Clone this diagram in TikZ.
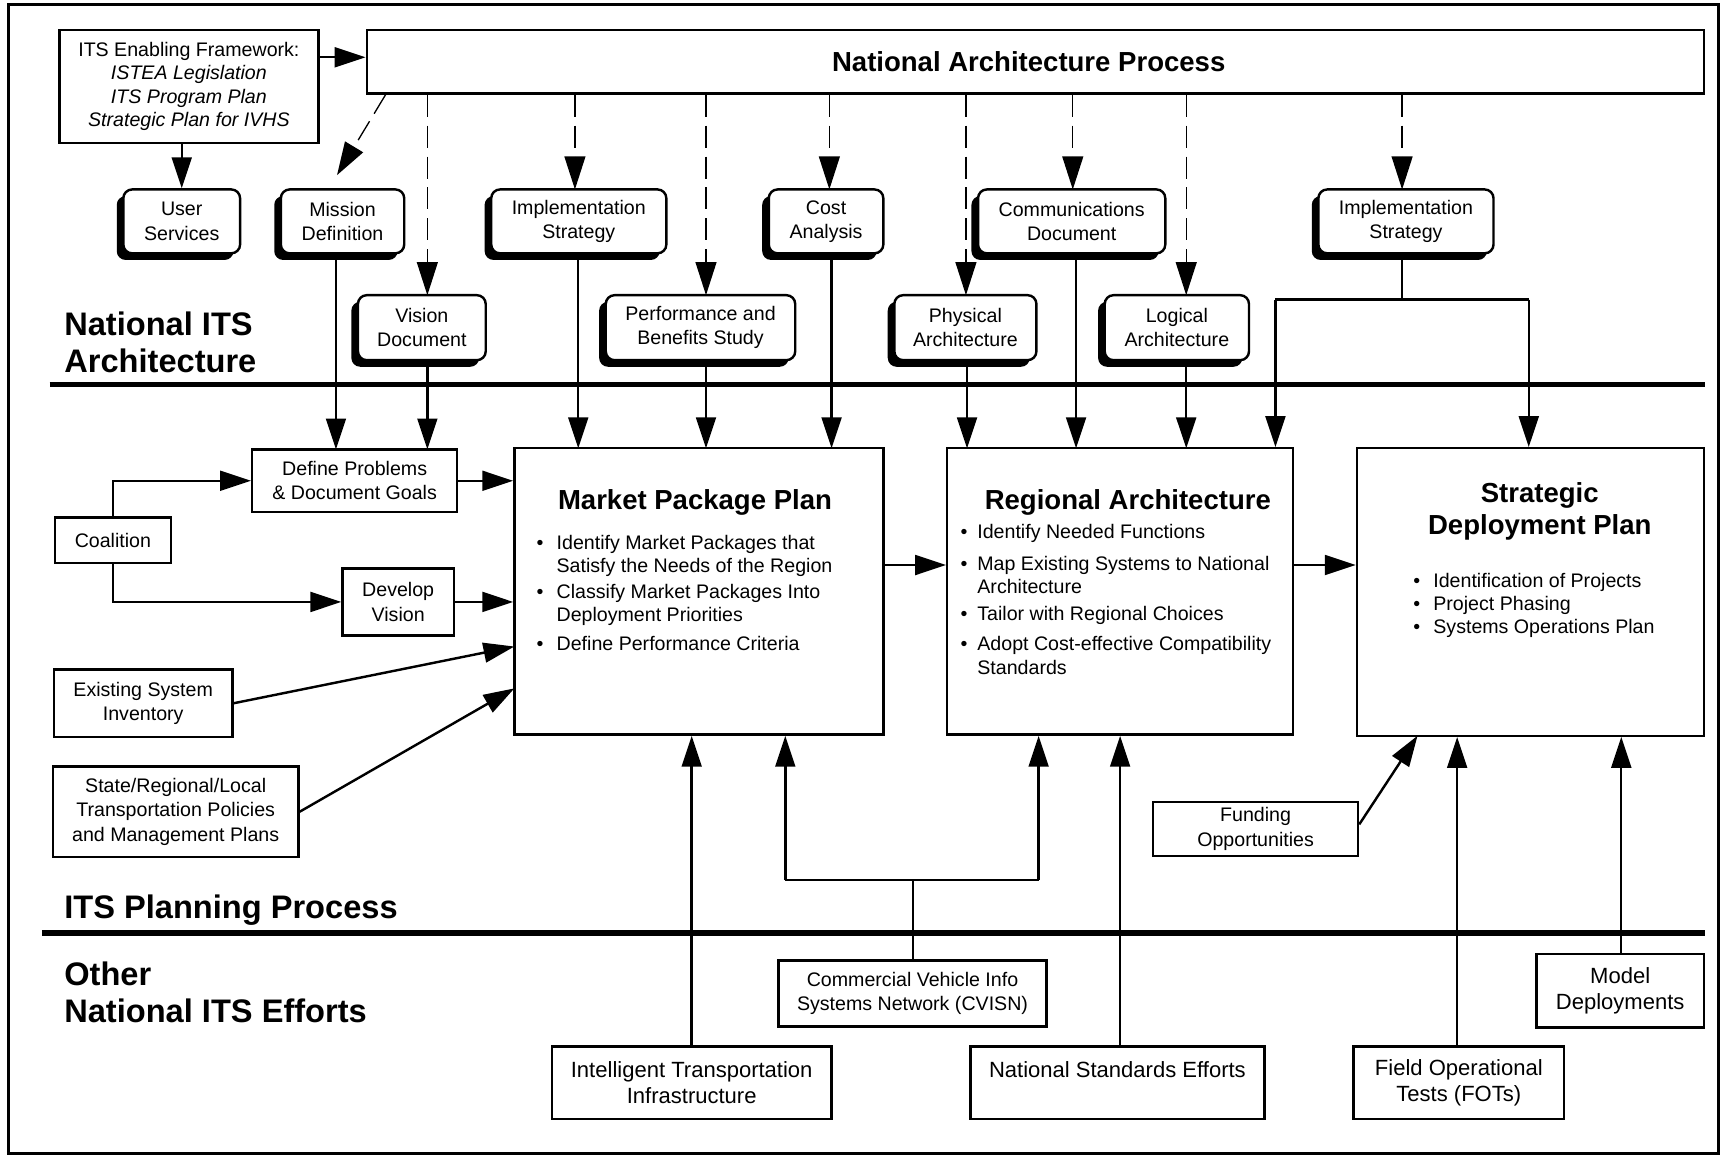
\documentclass[tikz,border=0pt]{standalone}
\usepackage{fontspec}
\setmainfont{Liberation Sans}
\usetikzlibrary{arrows.meta,shadows,calc}
\newcommand{\tlines}[1]{\begin{tabular}[t]{@{}l@{}}#1\end{tabular}}
\newcommand{\bulitem}[1][6pt]{\llap{\textbullet\hspace{#1}}}
\begin{document}
\begin{tikzpicture}[x=0.5pt,y=-0.5pt,
  body/.style={font=\fontsize{8.9pt}{11pt}\selectfont},
  bigtext/.style={font=\fontsize{10pt}{12pt}\selectfont},
  box/.style={draw, line width=1.1pt, fill=white, inner sep=0pt, align=center, body},
  rbox/.style={box, rounded corners=4pt, drop shadow={shadow xshift=-3pt, shadow yshift=-3pt, opacity=1, fill=black}},
  conn/.style={line width=1.1pt},
  arr/.style={conn, -{Triangle[length=14pt,width=9pt]}},
  darr/.style={line width=0.6pt, dash pattern=on 10pt off 4pt, -{Triangle[length=15pt,width=9.5pt]}},
  sep/.style={line width=2.4pt},
  sect/.style={font=\fontsize{14.8pt}{16.5pt}\selectfont\bfseries, anchor=base west, inner sep=0pt},
  ttl/.style={font=\fontsize{12.5pt}{14.5pt}\selectfont\bfseries, inner sep=0pt, align=center},
  item/.style={anchor=base west, inner sep=0pt, font=\fontsize{8.9pt}{10.5pt}\selectfont},
]
\useasboundingbox (0,0) rectangle (1568,1049);
\fill[white] (0,0) rectangle (1568,1049);
\draw[line width=1.2pt] (8,4) rectangle (1560,1047);

% separators
\draw[sep] (45,349) -- (1548,349);
\draw[sep] (38,847) -- (1548,847);

% section labels
\node[sect] (s1) at (58,305) {\tlines{National ITS\\Architecture}};
\node[sect] (s2) at (58,834) {ITS Planning Process};
\node[sect] (s3) at (58,895) {\tlines{Other\\National ITS Efforts}};

% top boxes
\node[box, minimum width=117.5pt, minimum height=51.5pt, font=\fontsize{8.9pt}{10.7pt}\selectfont] (fw) at (171.5,78.5)
  {ITS Enabling Framework:\\\textit{ISTEA Legislation}\\\textit{ITS Program Plan}\\\textit{Strategic Plan for IVHS}};
\node[box, minimum width=607pt, minimum height=29pt] (nap) at (940,56) {};
\node[ttl] (napt) at (934,56) {National Architecture Process};

% rounded boxes row 1
\node[rbox, minimum width=53pt, minimum height=29pt] (us) at (165,201) {User\\Services};
\node[rbox, minimum width=56pt, minimum height=29pt] (md) at (311,201) {Mission\\Definition};
\node[rbox, minimum width=79.5pt, minimum height=29pt] (is1) at (525.5,201) {Implementation\\Strategy};
\node[rbox, minimum width=52pt, minimum height=29pt] (ca) at (750,201) {Cost\\Analysis};
\node[rbox, minimum width=85pt, minimum height=29pt] (cd) at (973,201) {Communications\\Document};
\node[rbox, minimum width=79.5pt, minimum height=29pt] (is2) at (1276.5,201) {Implementation\\Strategy};
% row 2
\node[rbox, minimum width=58pt, minimum height=29.5pt] (vd) at (383,297.5) {Vision\\Document};
\node[rbox, minimum width=86pt, minimum height=29.5pt] (pb) at (636,297.5) {Performance and\\Benefits Study};
\node[rbox, minimum width=64.5pt, minimum height=29.5pt] (pa) at (876.5,297.5) {Physical\\Architecture};
\node[rbox, minimum width=65.5pt, minimum height=29.5pt] (la) at (1068.5,297.5) {Logical\\Architecture};

% middle boxes
\node[box, minimum width=93pt, minimum height=28.5pt] (dp) at (322,436.5) {Define Problems\\\& Document Goals};
\node[box, minimum width=52.5pt, minimum height=20.5pt] (co) at (102.5,490.5) {Coalition};
\node[box, minimum width=50.5pt, minimum height=30.5pt] (dv) at (361.5,546.5) {Develop\\Vision};
\node[box, minimum width=81pt, minimum height=30.5pt] (es) at (130,638.5) {Existing System\\Inventory};
\node[box, minimum width=111.5pt, minimum height=41pt] (sr) at (159.5,737) {State/Regional/Local\\Transportation Policies\\and Management Plans};

\node[box, minimum width=167.5pt, minimum height=130pt] (mp) at (634.5,537) {};
\node[box, minimum width=157pt, minimum height=130pt] (ra) at (1017,537) {};
\node[box, minimum width=157.5pt, minimum height=130.5pt] (sd) at (1389.5,537.5) {};

\node[ttl, anchor=base] (mpt) at (631,463) {Market Package Plan};
\node[item] (mp1) at (505,498.5) {\tlines{\bulitem Identify Market Packages that\\Satisfy the Needs of the Region}};
\node[item] (mp2) at (505,543.5) {\tlines{\bulitem Classify Market Packages Into\\Deployment Priorities}};
\node[item] (mp3) at (505,590.5) {\tlines{\bulitem Define Performance Criteria}};

\node[ttl, anchor=base] (rat) at (1024,463) {Regional Architecture};
\node[item] (ra1) at (887,489) {\tlines{\bulitem[4.5pt]Identify Needed Functions}};
\node[item] (ra2) at (887,518) {\tlines{\bulitem[4.5pt]Map Existing Systems to National\\Architecture}};
\node[item] (ra3) at (887,563) {\tlines{\bulitem[4.5pt]Tailor with Regional Choices}};
\node[item] (ra4) at (887,591) {\tlines{\bulitem[4.5pt]Adopt Cost-effective Compatibility\\Standards}};

\node[ttl] (sdt) at (1398,464) {Strategic\\Deployment Plan};
\node[item] (sd1) at (1301,533) {\tlines{\bulitem Identification of Projects\\\bulitem Project Phasing\\\bulitem Systems Operations Plan}};

% bottom boxes
\node[box, bigtext, minimum width=127pt, minimum height=33pt] (iti) at (628,983) {Intelligent Transportation\\Infrastructure};
\node[box, minimum width=121.5pt, minimum height=30pt] (cv) at (828.5,902) {Commercial Vehicle Info\\Systems Network (CVISN)};
\node[box, bigtext, minimum width=133.5pt, minimum height=33pt] (nse) at (1014.5,983) {National Standards Efforts\\\mbox{}};
\node[box, minimum width=93pt, minimum height=24.5pt] (fo) at (1140,752.5) {Funding\\Opportunities};
\node[box, bigtext, minimum width=95.5pt, minimum height=33pt] (fot) at (1324.5,983) {Field Operational\\Tests (FOTs)};
\node[box, bigtext, minimum width=76pt, minimum height=33.5pt] (mdp) at (1471,899.5) {Model\\Deployments};

% coordinates
\coordinate (a0) at (0,52);
\coordinate (dm) at (350,0);
\coordinate (mdt) at (306,159);
\coordinate (dvd) at (388,268);
\coordinate (dis1) at (522,172);
\coordinate (dpb) at (641,268);
\coordinate (dca) at (753,172);
\coordinate (dpa) at (877,268);
\coordinate (dcd) at (974,172);
\coordinate (dla) at (1077,268);
\coordinate (dis2) at (1273,172);

\coordinate (c1) at (305,408);
\coordinate (c2) at (388,408);
\coordinate (c3) at (525,407);
\coordinate (c4) at (641,407);
\coordinate (c5) at (755,407);
\coordinate (c6) at (878,407);
\coordinate (c7) at (977,407);
\coordinate (c8) at (1077,407);
\coordinate (j) at (1273,272);
\coordinate (jl) at (1158,272);
\coordinate (jr) at (1388,272);

\coordinate (m3) at (467,587);
\coordinate (m4) at (467,625);
\coordinate (h1) at (0,513);
\coordinate (jb) at (829,799);
\coordinate (jbl) at (713,799);
\coordinate (jbr) at (943,799);
\coordinate (bn) at (1017,0);
\coordinate (bf) at (1287,668);
\coordinate (bfo) at (1323,0);
\coordinate (bmd) at (1472,0);

% top connectors
\draw[arr] (fw.east |- a0) -- (nap.west |- a0);
\draw[arr] (fw.south -| us.north) -- (us.north);

\draw[darr] (nap.south -| dm) -- (mdt);
\draw[darr] (nap.south -| dvd) -- (dvd);
\draw[darr] (nap.south -| dis1) -- (dis1);
\draw[darr] (nap.south -| dpb) -- (dpb);
\draw[darr] (nap.south -| dca) -- (dca);
\draw[darr] (nap.south -| dpa) -- (dpa);
\draw[darr] (nap.south -| dcd) -- (dcd);
\draw[darr] (nap.south -| dla) -- (dla);
\draw[darr] (nap.south -| dis2) -- (dis2);

\draw[arr] (md.south -| c1) -- (c1);
\draw[arr] (vd.south -| c2) -- (c2);
\draw[arr] (is1.south -| c3) -- (c3);
\draw[arr] (pb.south -| c4) -- (c4);
\draw[arr] (ca.south -| c5) -- (c5);
\draw[arr] (pa.south -| c6) -- (c6);
\draw[arr] (cd.south -| c7) -- (c7);
\draw[arr] (la.south -| c8) -- (c8);
\draw[conn] (is2.south -| j) -- (j);
\draw[conn] (jl) -- (jr);
\draw[arr] (jl) -- (jl |- ra.north);
\draw[arr] (jr) -- (jr |- sd.north);

% middle connectors
\draw[arr] (co.north) |- (dp.west);
\draw[arr] (co.south) |- (dv.west);
\draw[arr] (dp.east) -- (dp.east -| mp.west);
\draw[arr] (dv.east) -- (dv.east -| mp.west);
\draw[arr] (es.east) -- (m3);
\draw[arr] (sr.east) -- (m4);
\draw[arr] (mp.east |- h1) -- (ra.west |- h1);
\draw[arr] (ra.east |- h1) -- (sd.west |- h1);

% bottom connectors
\draw[arr] (iti.north) -- (iti.north |- mp.south);
\draw[conn] (cv.north -| jb) -- (jb);
\draw[conn] (jbl) -- (jbr);
\draw[arr] (jbl) -- (jbl |- mp.south);
\draw[arr] (jbr) -- (jbr |- ra.south);
\draw[arr] (nse.north -| bn) -- (ra.south -| bn);
\draw[arr] ([yshift=2pt]fo.east) -- (bf);
\draw[arr] (fot.north -| bfo) -- (sd.south -| bfo);
\draw[arr] (mdp.north -| bmd) -- (sd.south -| bmd);
\end{tikzpicture}
\end{document}
